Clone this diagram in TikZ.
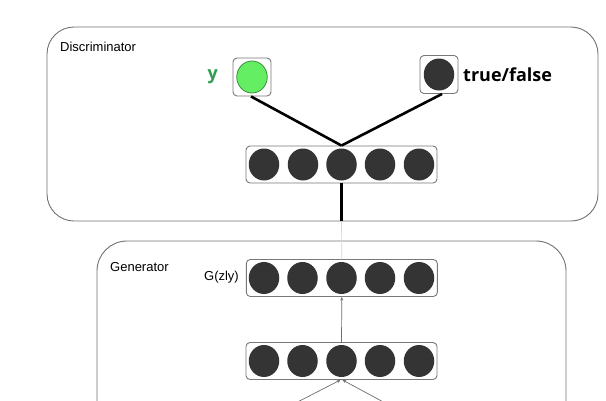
\documentclass[tikz,border=0pt]{standalone}
\usepackage{fontspec}
\setmainfont{Liberation Sans}
\newfontfamily\boldui{Open Sans}
\usetikzlibrary{arrows.meta,calc}
\definecolor{framegray}{RGB}{115,115,115}
\definecolor{boxgray}{RGB}{120,120,120}
\definecolor{neuron}{RGB}{52,52,52}
\definecolor{lightgreen}{RGB}{100,238,100}
\definecolor{darkgreen}{RGB}{60,140,60}
\definecolor{ygreen}{RGB}{46,158,78}
\definecolor{linkgray}{RGB}{110,110,110}
\definecolor{palegray}{RGB}{215,215,215}
\tikzset{
  frame/.style={draw=framegray, line width=0.9pt, rounded corners=27pt},
  layerbox/.style={draw=boxgray, line width=0.9pt, rounded corners=4pt, fill=white,
    minimum width=191pt, minimum height=37pt, inner sep=0pt},
  unitbox/.style={draw=boxgray, line width=0.9pt, rounded corners=4pt, fill=white,
    minimum width=38pt, minimum height=38pt, inner sep=0pt},
  neuronc/.style={ellipse, fill=neuron, minimum width=30.5pt, minimum height=32pt, inner sep=0pt},
  greenc/.style={ellipse, fill=lightgreen, draw=darkgreen, line width=0.8pt, minimum width=30.5pt, minimum height=32pt, inner sep=0pt},
  thicklink/.style={line width=2.6pt, black},
  thinlink/.style={line width=0.7pt, linkgray, -{Stealth[length=3.5pt,width=3pt]}},
  lbl/.style={font=\fontsize{13}{15}\selectfont, inner sep=0pt},
  biglbl/.style={font=\boldui\bfseries\fontsize{18}{20}\selectfont, inner sep=0pt}
}
\usetikzlibrary{shapes.geometric}
\begin{document}
\begin{tikzpicture}[x=1pt,y=-1pt]
\useasboundingbox (0,0) rectangle (606,400);
\clip (0,0) rectangle (606,400);
\fill[white] (0,0) rectangle (606,400);
% frames
\draw[frame] (47,27) rectangle (598,221);
\draw[frame, rounded corners=30pt] (97,241) rectangle (566,470);
\node[lbl, anchor=west] (dlabel) at (60,47) {Discriminator};
\node[lbl, anchor=west] (glabel) at (110,267) {Generator};
% discriminator layers
\node[layerbox] (hid) at (341.5,164.5) {};
\foreach \i/\x in {1/264,2/303,3/341.5,4/380,5/419}
  \node[neuronc] (h\i) at (\x,164.5) {};
\node[unitbox] (ybox) at (252,77) {};
\node[greenc] (yc) at (252,77) {};
\node[unitbox] (tfbox) at (439,74.5) {};
\node[neuronc] (tfc) at (439,74.5) {};
\node[biglbl, text=ygreen, anchor=east] (ylbl) at (218,77) {y};
\node[biglbl, anchor=west] (tflbl) at (463,74.5) {true/false};
% generator layers
\node[layerbox] (gout) at (341.8,278) {};
\foreach \i/\x in {1/264,2/302.5,3/341.5,4/380,5/419}
  \node[neuronc] (g\i) at (\x,278) {};
\node[lbl, anchor=east] (glbl) at (239,277) {G(zly)};
\node[layerbox] (gh) at (341.5,361) {};
\foreach \i/\x in {1/264,2/302.5,3/341.5,4/380,5/419}
  \node[neuronc] (k\i) at (\x,361) {};
% connectors
\coordinate (dbot) at (hid.south |- 0,221);
\draw[line width=0.7pt, palegray] (gout.north) -- (dbot);
\draw[thicklink] (hid.south) -- (dbot);
\draw[thicklink] ($(ybox.south)+(-1,0)$) -- (hid.north);
\draw[thicklink] ($(tfbox.south)+(3,0)$) -- (hid.north);
\draw[thinlink] (gh.north) -- (gout.south);
\coordinate (inL) at (280,411);
\coordinate (inR) at (400,411);
\draw[thinlink] (inL) -- ($(gh.south)+(-1,0)$);
\draw[thinlink] (inR) -- ($(gh.south)+(1,0)$);
\end{tikzpicture}
\end{document}
